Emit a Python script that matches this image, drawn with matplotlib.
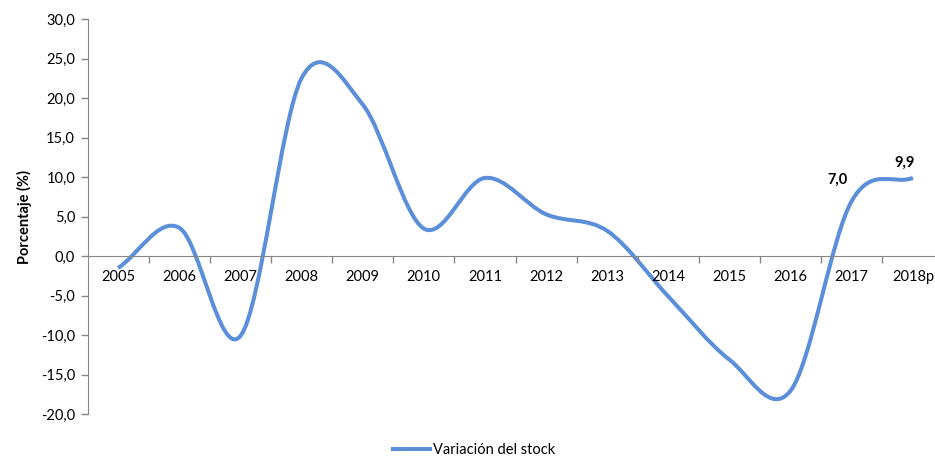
import matplotlib
matplotlib.use("Agg")
import matplotlib.pyplot as plt
from matplotlib.path import Path
from matplotlib.patches import PathPatch
from matplotlib.lines import Line2D
from matplotlib.ticker import FuncFormatter, FixedLocator

plt.rcParams['font.family'] = ['Lato', 'DejaVu Sans']

# datos
years = ['2005', '2006', '2007', '2008', '2009', '2010', '2011', '2012',
         '2013', '2014', '2015', '2016', '2017', '2018p']
variacion = [-1.5, 3.6, -10.1, 22.5, 19.2, 3.5, 9.9, 5.3,
             3.2, -5.1, -13.1, -17.0, 7.0, 9.9]
labeled = {12: '7,0', 13: '9,9'}

color = '#5B8FD9'
gris = '#868686'

fig = plt.figure(figsize=(9.35, 4.57), dpi=100)
ax = fig.add_axes([0.0936, 0.0934, 0.9155, 0.865])

# curva suavizada tipo Excel (bezier cúbica por tramos)
xs = list(range(len(years)))
n = len(xs)
verts = [(xs[0], variacion[0])]
codes = [Path.MOVETO]
for i in range(n - 1):
    p1 = (xs[i], variacion[i])
    p2 = (xs[i + 1], variacion[i + 1])
    if i == 0:
        c1 = (p1[0] + (p2[0] - p1[0]) / 3, p1[1] + (p2[1] - p1[1]) / 3)
    else:
        p0 = (xs[i - 1], variacion[i - 1])
        c1 = (p1[0] + (p2[0] - p0[0]) / 6, p1[1] + (p2[1] - p0[1]) / 6)
    if i == n - 2:
        c2 = (p2[0] - (p2[0] - p1[0]) / 3, p2[1] - (p2[1] - p1[1]) / 3)
    else:
        p3 = (xs[i + 2], variacion[i + 2])
        c2 = (p2[0] - (p3[0] - p1[0]) / 6, p2[1] - (p3[1] - p1[1]) / 6)
    verts += [c1, c2, p2]
    codes += [Path.CURVE4] * 3
ax.add_patch(PathPatch(Path(verts, codes), facecolor='none', edgecolor=color,
                       lw=2.9, capstyle='butt', joinstyle='round'))

for i, txt in labeled.items():
    off = (-10, 10) if i == 12 else (-6, 6)
    ax.annotate(txt, (xs[i], variacion[i]), xytext=off, textcoords='offset points',
                ha='center', va='bottom', fontsize=10.5, fontweight='bold')

ax.set_xlim(-0.5, len(years) - 0.5)
ax.set_ylim(-20, 30)
ax.set_yticks(range(-20, 31, 5))
ax.yaxis.set_major_formatter(FuncFormatter(lambda v, p: f"{v:.1f}".replace('.', ',')))

ax.set_xticks(xs)
ax.set_xticklabels(years)
ax.xaxis.set_minor_locator(FixedLocator([i + 0.5 for i in xs[:-1]]))
ax.tick_params(axis='x', which='major', length=0, pad=10, labelsize=10.5)
ax.tick_params(axis='x', which='minor', length=5, color=gris, width=1)
ax.tick_params(axis='y', length=5, color=gris, width=1, labelsize=10.5, pad=4)

for s in ['top', 'right']:
    ax.spines[s].set_visible(False)
ax.spines['bottom'].set_position(('data', 0))
ax.spines['bottom'].set_color(gris)
ax.spines['left'].set_color(gris)

ax.set_ylabel('Porcentaje (%)', fontsize=10.5, fontweight='bold', labelpad=6)

handle = Line2D([], [], color=color, lw=2.9)
fig.legend([handle], ['Variación del stock'], loc='center', frameon=False,
           bbox_to_anchor=(0.507, 0.015), fontsize=10.5, handlelength=2.6,
           handletextpad=0.2)

fig.savefig('out.png', dpi=100)
